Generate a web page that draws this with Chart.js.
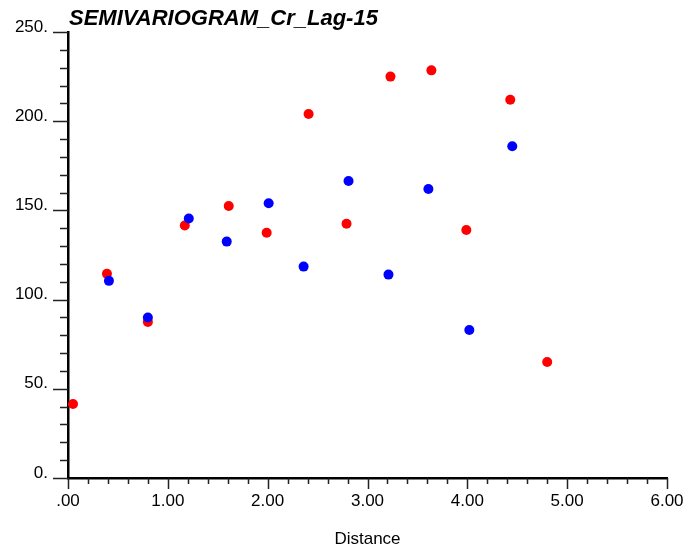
<!DOCTYPE html>
<html>
<head>
<meta charset="utf-8">
<title>SEMIVARIOGRAM_Cr_Lag-15</title>
<script src="https://cdn.jsdelivr.net/npm/chart.js@4/dist/chart.umd.min.js"></script>
<style>
    html, body { margin: 0; padding: 0; background: #ffffff; }
    #chart-wrap { width: 689px; height: 548px; }
</style>
</head>
<body>
<div id="chart-wrap"><canvas id="semivariogram-chart" width="689" height="548"></canvas></div>
<script>
// Data
const chartTitle = 'SEMIVARIOGRAM_Cr_Lag-15';
const xAxisTitle = 'Distance';

const blueDistance = [0.41, 0.80, 1.21, 1.59, 2.01, 2.36, 2.81, 3.21, 3.61, 4.02, 4.45];
const blueGamma = [110.5, 90.0, 145.5, 132.5, 154.0, 118.5, 166.5, 114.0, 162.0, 83.0, 186.0];

const redDistance = [0.05, 0.39, 0.80, 1.17, 1.61, 1.99, 2.41, 2.79, 3.23, 3.64, 3.99, 4.43, 4.80];
const redGamma = [41.5, 114.5, 87.5, 141.5, 152.5, 137.5, 204.0, 142.5, 225.0, 228.5, 139.0, 212.0, 65.0];

const xTickMin = 0, xTickMax = 6, xTickStep = 0.2;
const yTickMin = 0, yTickMax = 250, yTickStep = 10;

const toPoints = (xs, ys) => xs.map((x, i) => ({ x: x, y: ys[i] }));

const isMajor = (v, every) => Math.abs(v / every - Math.round(v / every)) < 1e-6;

/**
 * Draws major/minor tick marks outside the axes and the chart title
 */
const axisDecorations = {
    id: 'axisDecorations',
    afterDraw(chart) {
        const ctx = chart.ctx;
        const xs = chart.scales.x;
        const ys = chart.scales.y;
        const area = chart.chartArea;

        ctx.save();
        ctx.strokeStyle = '#222222';
        ctx.lineWidth = 1.5;
        ctx.beginPath();
        ys.ticks.forEach(t => {
            const py = Math.round(ys.getPixelForValue(t.value)) + 0.5;
            const len = isMajor(t.value, 50) ? 15 : 8;
            ctx.moveTo(area.left - len, py);
            ctx.lineTo(area.left, py);
        });
        xs.ticks.forEach(t => {
            const px = Math.round(xs.getPixelForValue(t.value)) + 0.5;
            const len = isMajor(t.value, 1) ? 11 : 6;
            ctx.moveTo(px, area.bottom);
            ctx.lineTo(px, area.bottom + len);
        });
        ctx.stroke();

        // Title
        ctx.fillStyle = '#000000';
        ctx.font = 'italic bold 22px "Liberation Sans", Arial, sans-serif';
        ctx.textAlign = 'left';
        ctx.textBaseline = 'alphabetic';
        ctx.fillText(chartTitle, 69, 25);
        ctx.restore();
    }
};

const ctx = document.getElementById('semivariogram-chart');

new Chart(ctx, {
    type: 'scatter',
    data: {
        datasets: [
            {
                label: 'Blue',
                data: toPoints(blueDistance, blueGamma),
                backgroundColor: '#0000ff',
                borderColor: '#0000ff',
                pointRadius: 5,
                pointHoverRadius: 5,
                borderWidth: 0
            },
            {
                label: 'Red',
                data: toPoints(redDistance, redGamma),
                backgroundColor: '#ff0000',
                borderColor: '#ff0000',
                pointRadius: 5,
                pointHoverRadius: 5,
                borderWidth: 0
            }
        ]
    },
    options: {
        responsive: false,
        animation: false,
        layout: {
            padding: { top: 32, right: 22, left: 0, bottom: -2 }
        },
        plugins: {
            legend: { display: false },
            tooltip: { enabled: false },
            title: { display: false }
        },
        scales: {
            x: {
                type: 'linear',
                min: xTickMin,
                max: xTickMax,
                afterFit: scale => {
                    scale.height = 72;
                    scale.paddingLeft = 0;
                    scale.paddingRight = 0;
                },
                grid: { display: false, drawTicks: false },
                border: { display: true, color: '#000000', width: 2.5 },
                ticks: {
                    stepSize: xTickStep,
                    autoSkip: false,
                    maxRotation: 0,
                    padding: 13,
                    color: '#000000',
                    font: { family: '"Liberation Sans", Arial, sans-serif', size: 17 },
                    callback: v => {
                        if (!isMajor(v, 1)) return '';
                        const s = Math.round(v).toFixed(2);
                        return s === '0.00' ? '.00' : s;
                    }
                },
                title: {
                    display: true,
                    text: xAxisTitle,
                    color: '#000000',
                    padding: { top: 0, bottom: 0 },
                    font: { family: '"Liberation Sans", Arial, sans-serif', size: 17 }
                }
            },
            y: {
                type: 'linear',
                min: yTickMin,
                max: yTickMax,
                afterFit: scale => { scale.width = 68; },
                grid: { display: false, drawTicks: false },
                border: { display: true, color: '#000000', width: 2.5 },
                ticks: {
                    stepSize: yTickStep,
                    autoSkip: false,
                    padding: 20,
                    labelOffset: -5,
                    color: '#000000',
                    font: { family: '"Liberation Sans", Arial, sans-serif', size: 17 },
                    callback: v => isMajor(v, 50) ? Math.round(v) + '.' : ''
                }
            }
        }
    },
    plugins: [axisDecorations]
});
</script>
</body>
</html>
